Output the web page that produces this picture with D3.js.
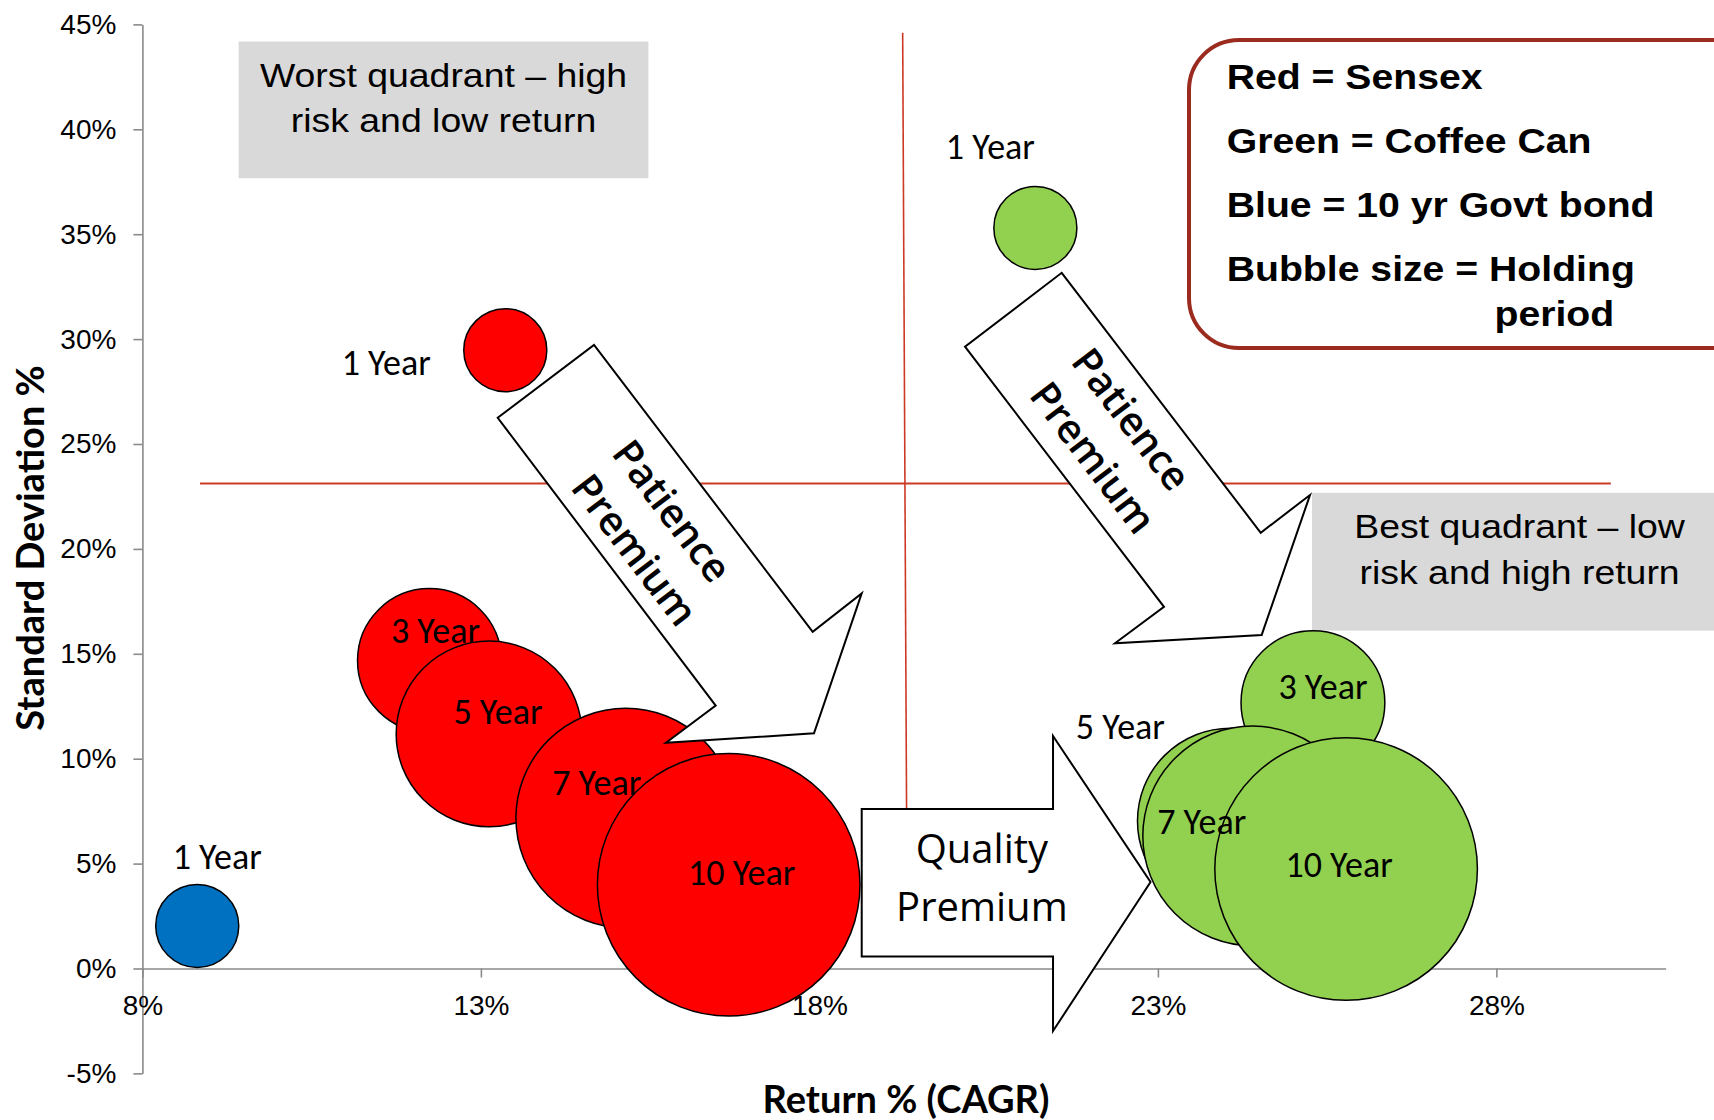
<!DOCTYPE html>
<html>
<head>
<meta charset="utf-8">
<script src="https://cdn.jsdelivr.net/npm/d3@7"></script>
<style>
  html, body { margin: 0; padding: 0; background: #fff; overflow: hidden; }
  svg { display: block; }
</style>
</head>
<body>
<svg id="chart" width="1714" height="1120"></svg>
<script>
// ---- Data: return (CAGR %) vs standard deviation (%) by holding period ----
const holdingPeriods = ["1 Year", "3 Year", "5 Year", "7 Year", "10 Year"];
const holdingYears   = [1, 3, 5, 7, 10];

const sensexReturn    = [13.36, 12.24, 13.12, 15.14, 16.66];
const sensexStdDev    = [29.47, 14.68, 11.18, 7.17, 3.99];

const coffeeCanReturn = [21.19, 25.29, 24.07, 24.40, 25.78];
const coffeeCanStdDev = [35.30, 12.67, 7.03, 6.32, 4.74];

const bondPeriods = ["1 Year"];
const bondYears   = [1];
const bondReturn  = [8.81];
const bondStdDev  = [2.03];

const xTicks = [8, 13, 18, 23, 28];
const yTicks = [-5, 0, 5, 10, 15, 20, 25, 30, 35, 40, 45];

// quadrant dividers (in chart units)
const riskDivider   = { y: 23.12, from: 8.85, to: 29.69 };
const returnDivider = { top: [19.23, 44.6], bottom: [19.29, 6.0] };

// label nudges relative to each bubble centre (px): [dx, dy]
const sensexLabelNudge = [[-119, 25], [6, -18], [9, -10], [-29, -23], [13, 0]];
const coffeeLabelNudge = [[-45, -69], [10, -4], [-110, -82], [-51, -2], [-7, 8]];
const bondLabelNudge   = [[20, -57]];

// annotation arrows, vertices in chart units [return, std dev]
const patienceArrowSensex = [[13.248, 26.25], [14.671, 29.72], [17.901, 16.05], [18.625, 17.88],
                             [17.920, 11.21], [15.734, 10.76], [16.468, 12.53]];
const patienceArrowCoffee = [[21.579, 33.16], [24.519, 20.77], [25.247, 22.57], [24.533, 15.90],
                             [22.366, 15.50], [23.090, 17.24], [20.151, 29.64]];
const qualityArrow = [[18.625, 7.60], [21.451, 7.60], [21.451, 11.08], [22.891, 4.12],
                      [21.451, -2.98], [21.451, 0.57], [18.625, 0.57]];
const patienceTextSensex = [[15.840, 21.85], [15.288, 19.99]];
const patienceTextCoffee = [[22.625, 26.22], [22.059, 24.39]];
const qualityText = [[20.40, 5.01], [20.40, 2.28]];

// ---- Scales ----
const x = d3.scaleLinear().domain([8, 30.5]).range([142.4, 142.4 + 22.5 * 67.7]);
const y = d3.scaleLinear().domain([-5, 45]).range([1073.4, 24.4]);
const r = d3.scaleSqrt().domain([0, 10]).range([0, 131.3]);

const svg = d3.select("#chart");
const tickFont = "'Liberation Sans', Arial, sans-serif";
const labelFont = "Carlito, 'Open Sans', 'Noto Sans', sans-serif";
const shapeFont = "'Open Sans', 'Noto Sans', sans-serif";

// ---- Axes ----
const yAxis = svg.append("g")
  .attr("transform", `translate(${x(8)},0)`)
  .call(d3.axisLeft(y).tickValues(yTicks).tickFormat(d => d + "%")
        .tickSize(9).tickSizeOuter(0).tickPadding(17));
const xAxis = svg.append("g")
  .attr("transform", `translate(0,${y(0)})`)
  .call(d3.axisBottom(x).tickValues(xTicks).tickFormat(d => d + "%")
        .tickSize(9).tickSizeOuter(0).tickPadding(17.5));
[yAxis, xAxis].forEach(g => {
  g.select(".domain").attr("stroke", "#8a8a8a").attr("stroke-width", 1.6);
  g.selectAll(".tick line").attr("stroke", "#8a8a8a").attr("stroke-width", 1.6);
  g.selectAll(".tick text").attr("fill", "#000")
    .style("font-family", tickFont).style("font-size", "28px");
});

// axis titles
svg.append("text")
  .attr("transform", `translate(44,548) rotate(-90)`)
  .attr("text-anchor", "middle")
  .style("font-family", "Lato, 'Open Sans', sans-serif")
  .style("font-weight", 700).style("font-size", "38px")
  .text("Standard Deviation %");
svg.append("text")
  .attr("x", 906).attr("y", 1113)
  .attr("text-anchor", "middle")
  .style("font-family", "Lato, 'Open Sans', sans-serif")
  .style("font-weight", 700).style("font-size", "38px")
  .text("Return % (CAGR)");

// ---- Quadrant dividers ----
svg.append("line")
  .attr("x1", x(riskDivider.from)).attr("x2", x(riskDivider.to))
  .attr("y1", y(riskDivider.y)).attr("y2", y(riskDivider.y))
  .attr("stroke", "#cc3a27").attr("stroke-width", 2);
svg.append("line")
  .attr("x1", x(returnDivider.top[0])).attr("y1", y(returnDivider.top[1]))
  .attr("x2", x(returnDivider.bottom[0])).attr("y2", y(returnDivider.bottom[1]))
  .attr("stroke", "#cc3a27").attr("stroke-width", 1.6);

// ---- Quadrant captions ----
function caption(box, cx, lines, baselines) {
  svg.append("rect").attr("x", box[0]).attr("y", box[1])
    .attr("width", box[2]).attr("height", box[3]).attr("fill", "#d9d9d9");
  lines.forEach((t, i) => {
    svg.append("text")
      .attr("transform", `translate(${cx},${baselines[i]}) scale(1.1,1)`)
      .attr("text-anchor", "middle")
      .style("font-family", tickFont).style("font-size", "34px")
      .attr("fill", "#000").text(t);
  });
}
caption([238.6, 41.5, 409.8, 136.7], 443.5,
        ["Worst quadrant \u2013 high", "risk and low return"], [87.3, 131.7]);
caption([1312, 492.8, 460, 137.8], 1519.6,
        ["Best quadrant \u2013 low", "risk and high return"], [537.8, 583.6]);

// ---- Bubbles ----
const series = [
  { name: "Sensex", color: "#ff0000", ret: sensexReturn, sd: sensexStdDev,
    years: holdingYears, labels: holdingPeriods, nudge: sensexLabelNudge },
  { name: "Coffee Can", color: "#92d050", ret: coffeeCanReturn, sd: coffeeCanStdDev,
    years: holdingYears, labels: holdingPeriods, nudge: coffeeLabelNudge },
  { name: "10 yr Govt bond", color: "#0070c0", ret: bondReturn, sd: bondStdDev,
    years: bondYears, labels: bondPeriods, nudge: bondLabelNudge }
];
const points = series.flatMap(s => s.ret.map((v, i) => ({
  series: s.name, color: s.color, ret: v, sd: s.sd[i], years: s.years[i],
  label: s.labels[i], nudge: s.nudge[i]
})));

svg.append("g").selectAll("circle").data(points).join("circle")
  .attr("cx", d => x(d.ret)).attr("cy", d => y(d.sd)).attr("r", d => r(d.years))
  .attr("fill", d => d.color).attr("stroke", "#000").attr("stroke-width", 1.5);

svg.append("g").selectAll("text").data(points).join("text")
  .attr("x", d => x(d.ret) + d.nudge[0]).attr("y", d => y(d.sd) + d.nudge[1])
  .attr("text-anchor", "middle")
  .style("font-family", labelFont).style("font-size", "36px")
  .attr("fill", "#000").text(d => d.label);

// ---- Annotation arrows ----
const arrowPath = d3.line().x(p => x(p[0])).y(p => y(p[1]));
[patienceArrowSensex, patienceArrowCoffee, qualityArrow].forEach(a => {
  svg.append("path").attr("d", arrowPath(a) + "Z")
    .attr("fill", "#fff").attr("stroke", "#000").attr("stroke-width", 2)
    .attr("stroke-linejoin", "miter");
});
[patienceTextSensex, patienceTextCoffee].forEach(pos => {
  ["Patience", "Premium"].forEach((t, i) => {
    svg.append("text")
      .attr("transform", `translate(${x(pos[i][0])},${y(pos[i][1])}) rotate(52.7)`)
      .attr("text-anchor", "middle").attr("dominant-baseline", "central")
      .style("font-family", shapeFont).style("font-weight", 600).style("font-size", "40px")
      .attr("fill", "#000").text(t);
  });
});
["Quality", "Premium"].forEach((t, i) => {
  svg.append("text")
    .attr("x", x(qualityText[i][0])).attr("y", y(qualityText[i][1]))
    .attr("text-anchor", "middle")
    .style("font-family", shapeFont).style("font-weight", 500).style("font-size", "40px")
    .attr("fill", "#000").text(t);
});

// ---- Legend box ----
svg.append("rect").attr("x", 1189).attr("y", 40).attr("width", 620).attr("height", 308)
  .attr("rx", 50).attr("ry", 50)
  .attr("fill", "#fff").attr("stroke", "#9b2b1f").attr("stroke-width", 4);
const legendLines = [
  ["Red = Sensex", 1226.7, 89],
  ["Green = Coffee Can", 1226.7, 153],
  ["Blue = 10 yr Govt bond", 1226.7, 217],
  ["Bubble size = Holding", 1226.7, 281],
  ["period", 1494.5, 326]
];
legendLines.forEach(([t, lx, ly]) => {
  svg.append("text")
    .attr("transform", `translate(${lx},${ly}) scale(1.12,1)`)
    .style("font-family", tickFont).style("font-weight", 700).style("font-size", "35px")
    .attr("fill", "#000").text(t);
});
</script>
</body>
</html>
